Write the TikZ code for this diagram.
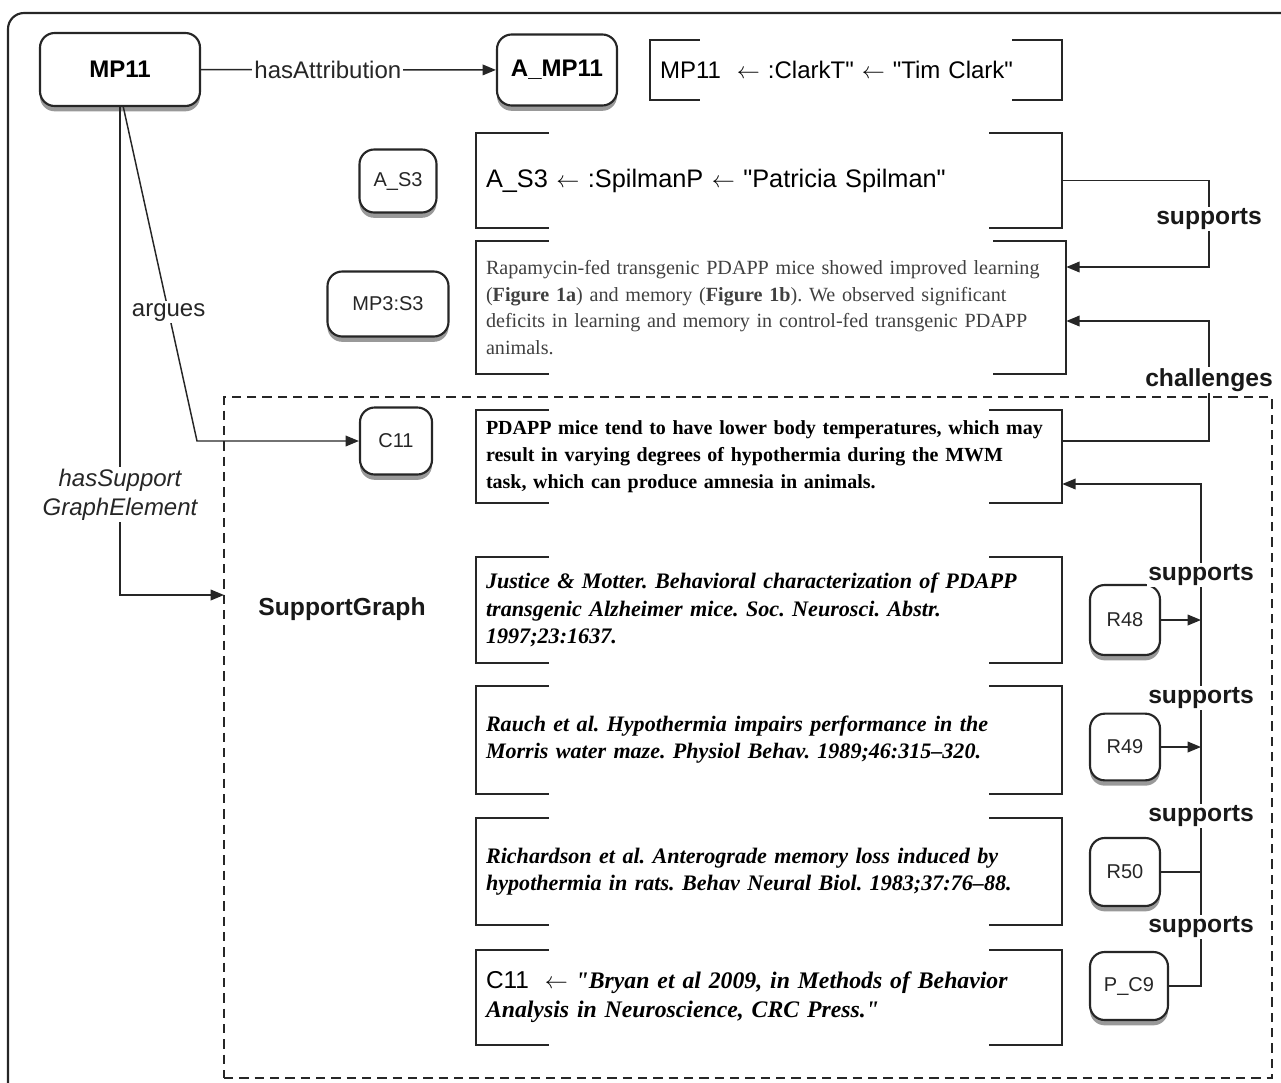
\documentclass[tikz,border=0pt]{standalone}
\usepackage{fontspec}
\setmainfont{Liberation Serif}[Ligatures=TeXOff]
\setsansfont{Liberation Sans}[Ligatures=TeXOff]
\usetikzlibrary{arrows.meta,shadows}
\newcommand\bracketpair[2]{%
 \draw[brk] ([xshift=#2]#1.north west) -- (#1.north west) -- (#1.south west) -- ([xshift=#2]#1.south west);
 \draw[brk] ([xshift=-#2]#1.north east) -- (#1.north east) -- (#1.south east) -- ([xshift=-#2]#1.south east);}
\newcommand\larr{$\leftarrow$}
\begin{document}
\frenchspacing
\begin{tikzpicture}[x=0.75pt,y=-0.75pt,
  every node/.style={font=\sffamily},
  rnode/.style={draw=black!85, line width=1.6pt, rounded corners=11pt, fill=white,
    drop shadow={shadow xshift=0pt, shadow yshift=-4pt, opacity=0.4, fill=black},
    font=\sffamily\fontsize{15}{18}\selectfont, inner sep=0pt, text=black!85},
  bnode/.style={rnode, font=\sffamily\bfseries\fontsize{18}{21}\selectfont, text=black},
  bbox/.style={inner xsep=7.5pt, inner ysep=0pt, align=left, anchor=center},
  brk/.style={line width=1.5pt, draw=black!85},
  lbl/.style={fill=white, inner sep=1.5pt, font=\sffamily\fontsize{18}{21}\selectfont, text=black!85},
  slbl/.style={fill=white, inner sep=1pt, font=\sffamily\bfseries\fontsize{18.5}{21}\selectfont, text=black!90},
  conn/.style={line width=1.1pt, draw=black!85},
  arr/.style={conn, -{Triangle[length=10pt,width=8pt]}},
]
\useasboundingbox (0,0) rectangle (1281,1082);
% outer frame
\draw[line width=1.6pt, black!85, rounded corners=12pt] (8,1090) -- (8,13) -- (1290,13);

% support graph dashed box
\node[draw=black!85, dash pattern=on 7pt off 4.5pt, line width=1.4pt, minimum width=786pt, minimum height=510.75pt, inner sep=0pt] (sg) at (748,737.5) {};
\node[font=\sffamily\bfseries\fontsize{18.5}{21}\selectfont, text=black!90] (sglabel) at (342,609) {SupportGraph};

% rounded nodes
\node[bnode, minimum width=120pt, minimum height=54.75pt] (mp11) at (120,69.5) {MP11};
\node[bnode, minimum width=90pt, minimum height=53.25pt] (amp11) at (557,70) {A\_MP11};
\node[rnode, minimum width=57.75pt, minimum height=47.25pt] (as3) at (398,181) {A\_S3};
\node[rnode, minimum width=90.75pt, minimum height=48.75pt] (mp3s3) at (388,304) {MP3:S3};
\node[rnode, minimum width=54pt, minimum height=50.25pt] (c11) at (396,441) {C11};
\node[rnode, minimum width=52.5pt, minimum height=52.5pt] (r48) at (1125,620) {R48};
\node[rnode, minimum width=52.5pt, minimum height=50pt] (r49) at (1125,747) {R49};
\node[rnode, minimum width=52.5pt, minimum height=51pt] (r50) at (1125,872) {R50};
\node[rnode, minimum width=58.5pt, minimum height=51pt] (pc9) at (1129,986) {P\_C9};

% bracket boxes
\node[bbox, text width=294pt, minimum height=45pt, font=\sffamily\fontsize{18}{22}\selectfont] (clark) at (856,70)
  {MP11\ \ \larr{} :ClarkT" \larr{} "Tim Clark"};
\node[bbox, text width=424.5pt, minimum height=71.25pt, font=\sffamily\fontsize{19}{22}\selectfont] (as3b) at (769,180.5)
  {A\_S3 \larr{} :SpilmanP \larr{} "Patricia Spilman"};
\node[bbox, text width=427.5pt, minimum height=99.75pt, text=black!75, font=\rmfamily\fontsize{15.1}{19.9}\selectfont] (rapa) at (771,307.5)
  {Rapamycin-fed transgenic PDAPP mice showed improved learning\\
   (\textbf{Figure 1a}) and memory (\textbf{Figure 1b}). We observed significant\\
   deficits in learning and memory in control-fed transgenic PDAPP\\
   animals.};
\node[bbox, text width=424.5pt, minimum height=69.75pt, font=\rmfamily\bfseries\fontsize{15}{20.25}\selectfont] (pdapp) at (769,456.5)
  {PDAPP mice tend to have lower body temperatures, which may\\
   result in varying degrees of hypothermia during the MWM\\
   task, which can produce amnesia in animals.};
\node[bbox, text width=424.5pt, minimum height=79.5pt, font=\rmfamily\bfseries\itshape\fontsize{16.6}{20.6}\selectfont] (justice) at (769,610)
  {Justice \& Motter. Behavioral characterization of PDAPP\\
   transgenic Alzheimer mice. Soc. Neurosci. Abstr.\\
   1997;23:1637.};
\node[bbox, text width=424.5pt, minimum height=81pt, font=\rmfamily\bfseries\itshape\fontsize{16.55}{20.25}\selectfont] (rauch) at (769,740)
  {Rauch et al. Hypothermia impairs performance in the\\
   Morris water maze. Physiol Behav. 1989;46:315–320.};
\node[bbox, text width=424.5pt, minimum height=80.25pt, font=\rmfamily\bfseries\itshape\fontsize{16.6}{20.25}\selectfont] (rich) at (769,871.5)
  {Richardson et al. Anterograde memory loss induced by\\
   hypothermia in rats. Behav Neural Biol. 1983;37:76–88.};
\node[bbox, text width=424.5pt, minimum height=71.25pt, font=\rmfamily\bfseries\itshape\fontsize{17.8}{21.75}\selectfont] (bryan) at (769,997.5)
  {{\sffamily\mdseries\upshape\fontsize{18.3}{21.75}\selectfont C11\ \ \larr{} }"Bryan et al 2009, in Methods of Behavior\\
   Analysis in Neuroscience, CRC Press."};

\bracketpair{clark}{37.5pt}
\bracketpair{as3b}{54.75pt}
\bracketpair{rapa}{54.75pt}
\bracketpair{pdapp}{54.75pt}
\bracketpair{justice}{54.75pt}
\bracketpair{rauch}{54.75pt}
\bracketpair{rich}{54.75pt}
\bracketpair{bryan}{54.75pt}

% coordinates for bends
\coordinate (sgin) at (224,595);
\coordinate (argk) at (197,441);
\coordinate (sa) at (1209,267);
\coordinate (ch) at (1209,321);
\coordinate (spine) at (1201,484);

% connectors
\draw[arr] (mp11) -- node[lbl, pos=0.43]{hasAttribution} (amp11);
\draw[arr] (mp11.south) |- node[lbl, pos=0.397, align=center, font=\sffamily\itshape\fontsize{18}{21.5}\selectfont]{hasSupport\\GraphElement} (sgin);
\draw[arr] ([xshift=2.5pt]mp11.south) -- node[lbl, pos=0.615]{argues} (argk) -- (c11.west);
\draw[arr] (as3b.east) -| node[slbl, pos=0.72]{supports} (sa) -- (sa -| rapa.east);
\draw[arr] ([yshift=11.6pt]pdapp.east) -| node[slbl, pos=0.755]{challenges} (ch) -- (ch -| rapa.east);
\draw[arr] (pc9.east) -| node[slbl, pos=0.559]{supports} node[slbl, pos=0.669]{supports}
   node[slbl, pos=0.787]{supports} node[slbl, pos=0.909]{supports} (spine) -- (spine -| pdapp.east);
\draw[arr] (r48.east) -- (r48.east -| spine);
\draw[arr] (r49.east) -- (r49.east -| spine);
\draw[conn] (r50.east) -- (r50.east -| spine);
\end{tikzpicture}
\end{document}
